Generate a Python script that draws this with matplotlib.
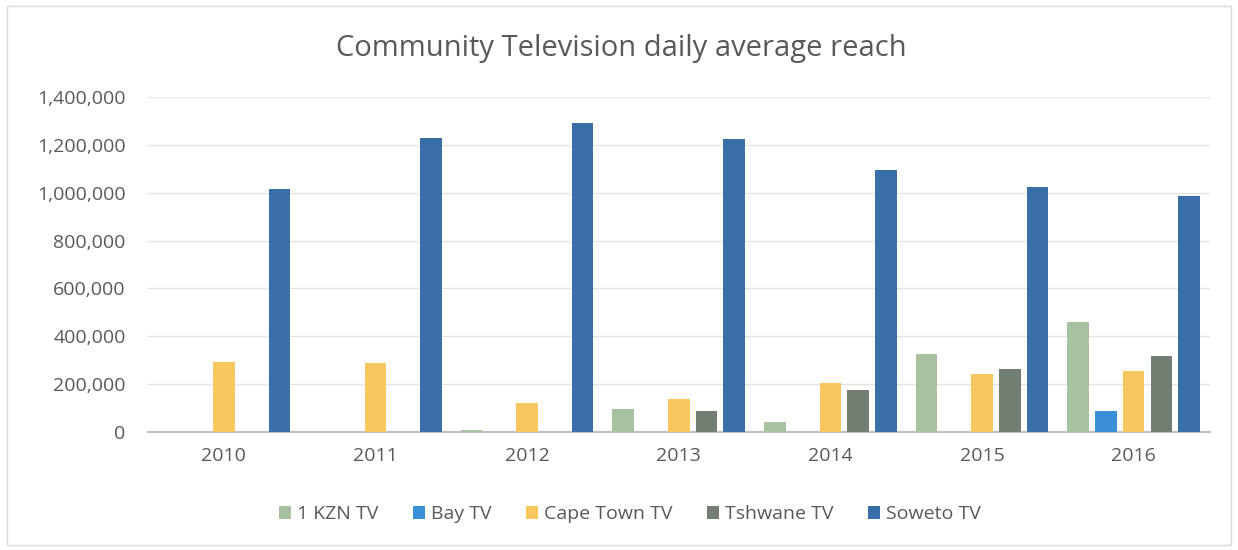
import numpy as np
import matplotlib
matplotlib.use("Agg")
import matplotlib.pyplot as plt
from matplotlib.ticker import FuncFormatter

years = ["2010", "2011", "2012", "2013", "2014", "2015", "2016"]
channels = ["1 KZN TV", "Bay TV", "Cape Town TV", "Tshwane TV", "Soweto TV"]

kzn_tv = [0, 0, 10000, 98000, 41000, 327000, 460000]
bay_tv = [0, 0, 0, 0, 0, 0, 87000]
cape_town_tv = [291000, 290000, 123000, 137000, 206000, 241000, 255000]
tshwane_tv = [0, 0, 0, 87000, 177000, 265000, 317000]
soweto_tv = [1014000, 1227000, 1291000, 1225000, 1093000, 1022000, 987000]

series = [kzn_tv, bay_tv, cape_town_tv, tshwane_tv, soweto_tv]
colors = ["#A8C29F", "#3B8ED8", "#F8C85E", "#737E72", "#3A6EA8"]

plt.rcParams["font.family"] = ["Open Sans", "DejaVu Sans"]
text_col = "#595959"

fig = plt.figure(figsize=(12.38, 5.5), dpi=100)
ax = fig.add_axes([0.1195, 0.2145, 0.8575, 0.6091])

x = np.arange(len(years))
slot = 0.183
width = 0.142
for i, (vals, col, name) in enumerate(zip(series, colors, channels)):
    ax.bar(x + (i - 2) * slot, vals, width=width, color=col, label=name, zorder=3)

ax.set_xlim(-0.5, len(years) - 0.5)
ax.set_ylim(0, 1400000)
ax.set_yticks(np.arange(0, 1400001, 200000))
ax.yaxis.set_major_formatter(FuncFormatter(lambda v, p: f"{int(v):,}"))
ax.set_xticks(x)
ax.set_xticklabels(years)
ax.grid(axis="y", color="#E3E3E3", linewidth=1, zorder=0)
for s in ["top", "right", "left"]:
    ax.spines[s].set_visible(False)
ax.spines["bottom"].set_color("#BFBFBF")
ax.spines["bottom"].set_linewidth(1.5)
ax.tick_params(axis="both", length=0, labelsize=14, colors=text_col)
ax.tick_params(axis="y", pad=16)
ax.tick_params(axis="x", pad=11)

fig.text(0.502, 0.912, "Community Television daily average reach",
         ha="center", va="center", fontsize=21, color=text_col)

leg = fig.legend(loc="center", bbox_to_anchor=(0.509, 0.065), ncol=5, frameon=False,
                 fontsize=14, handlelength=0.6, handleheight=0.6,
                 handletextpad=0.3, columnspacing=1.8)
for t in leg.get_texts():
    t.set_color(text_col)

# chart border
fig.patches.append(plt.Rectangle((0.006, 0.01), 0.988, 0.98, transform=fig.transFigure,
                                 fill=False, edgecolor="#D9D9D9", linewidth=1))

fig.savefig("out.png", dpi=100)
